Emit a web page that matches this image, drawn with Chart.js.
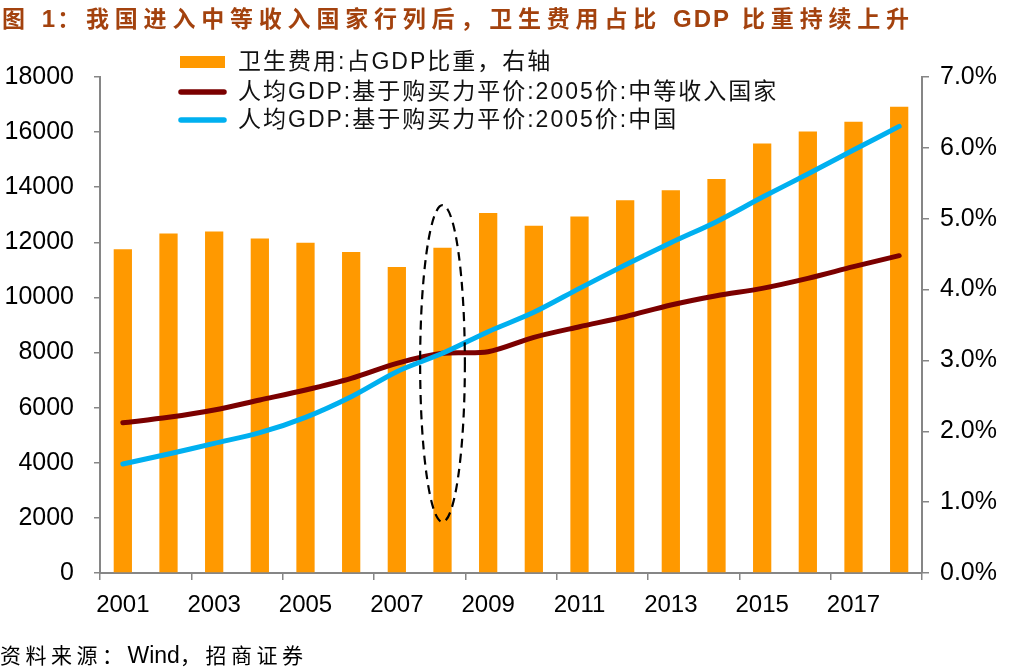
<!DOCTYPE html>
<html>
<head>
<meta charset="utf-8">
<script src="https://cdn.jsdelivr.net/npm/chart.js@4/dist/chart.umd.min.js"></script>
<style>
  html, body { margin: 0; padding: 0; background: #fff; }
  #wrap { position: relative; width: 1009px; height: 671px; overflow: hidden; }
  #title { position: absolute; left: 2px; top: 0px; font: bold 23px "Noto Sans CJK SC", "Liberation Sans", sans-serif; color: #A3420E; letter-spacing: 5.8px; white-space: nowrap; }
  #title .lat { font-family: "Liberation Sans", Arial, sans-serif; font-size: 24px; letter-spacing: 2px; }
  #source { position: absolute; left: 0px; top: 639px; font: 21px "Noto Sans CJK SC", "Liberation Sans", sans-serif; color: #000; letter-spacing: 4.5px; white-space: nowrap; }
  #source .lat { font-family: "Liberation Sans", Arial, sans-serif; font-size: 23px; letter-spacing: 0; }
  canvas { position: absolute; left: 0; top: 0; }
</style>
</head>
<body>
<div id="wrap">
  <canvas id="c" width="1009" height="671"></canvas>
  <div id="title">图 <span class="lat">1</span>：我国进入中等收入国家行列后，卫生费用占比 <span class="lat">GDP</span> 比重持续上升</div>
  <div id="source">资料来源：<span class="lat">Wind</span>，招商证券</div>
</div>
<script>
// ---- data ----
const years = ['2001','2002','2003','2004','2005','2006','2007','2008','2009','2010','2011','2012','2013','2014','2015','2016','2017','2018'];
const healthShare = [4.57,4.79,4.82,4.72,4.66,4.53,4.32,4.59,5.08,4.90,5.03,5.26,5.40,5.56,6.06,6.23,6.37,6.58];
const gdpMiddleIncome = [5450,5650,5915,6278,6641,7064,7609,7972,8032,8553,8938,9301,9726,10064,10330,10693,11116,11516];
const gdpChina = [3956,4318,4705,5092,5650,6398,7307,7972,8758,9460,10330,11177,11985,12750,13634,14480,15350,16208];
const seriesNames = ['卫生费用:占GDP比重，右轴','人均GDP:基于购买力平价:2005价:中等收入国家','人均GDP:基于购买力平价:2005价:中国'];
const leftAxis = { min: 0, max: 18000, step: 2000 };
const rightAxis = { min: 0, max: 7, step: 1 };
// highlighted year (dashed ellipse) and its vertical span on the left axis
const highlightYear = '2008';
const highlightSpan = [1850, 13350];

const ORANGE = '#FF9900', DARKRED = '#7B0000', BLUE = '#00B0F0', AXIS = '#868686';
const FONT = '"Liberation Sans", "Noto Sans CJK SC", Arial, sans-serif';

const legendPlugin = {
  id: 'customLegend',
  afterDraw(chart) {
    const ctx = chart.ctx;
    const ds = chart.data.datasets;
    ctx.save();
    ctx.font = '23px "Liberation Sans", "Noto Sans CJK SC", sans-serif';
    ctx.letterSpacing = '2px';
    ctx.textBaseline = 'middle';
    const rows = [62, 92, 120];
    [0, 1, 2].forEach((di, i) => {
      const d = ds[di], y = rows[i];
      if (d.type === 'bar') {
        ctx.fillStyle = d.backgroundColor;
        ctx.fillRect(180, y - 6, 45, 12);
      } else {
        ctx.strokeStyle = d.borderColor;
        ctx.lineWidth = 5.5;
        ctx.lineCap = 'round';
        ctx.beginPath(); ctx.moveTo(181, y); ctx.lineTo(224, y); ctx.stroke();
      }
      ctx.fillStyle = '#111';
      ctx.fillText(d.label, 238, y + 1);
    });
    ctx.restore();
  }
};

const ellipsePlugin = {
  id: 'ellipse',
  afterDatasetsDraw(chart) {
    const x = chart.scales.x, y = chart.scales.y;
    const idx = years.indexOf(highlightYear);
    const cx = x.getPixelForValue(idx);
    const w = x.getPixelForValue(1) - x.getPixelForValue(0);
    const yTop = y.getPixelForValue(highlightSpan[1]);
    const yBot = y.getPixelForValue(highlightSpan[0]);
    const ctx = chart.ctx;
    ctx.save();
    ctx.strokeStyle = '#000';
    ctx.lineWidth = 2.2;
    ctx.setLineDash([9, 6]);
    ctx.beginPath();
    ctx.ellipse(cx, (yTop + yBot) / 2, w * 0.49, (yBot - yTop) / 2, 0, 0, Math.PI * 2);
    ctx.stroke();
    ctx.restore();
  }
};

new Chart(document.getElementById('c'), {
  data: {
    labels: years,
    datasets: [
      { type: 'bar', label: seriesNames[0], data: healthShare, yAxisID: 'y1', backgroundColor: ORANGE,
        barPercentage: 0.4, categoryPercentage: 1.0, order: 3 },
      { type: 'line', label: seriesNames[1], data: gdpMiddleIncome, yAxisID: 'y', borderColor: DARKRED,
        backgroundColor: DARKRED, borderWidth: 5, pointRadius: 0, tension: 0.3, borderCapStyle: 'round', order: 2 },
      { type: 'line', label: seriesNames[2], data: gdpChina, yAxisID: 'y', borderColor: BLUE,
        backgroundColor: BLUE, borderWidth: 5, pointRadius: 0, tension: 0.3, borderCapStyle: 'round', order: 1 }
    ]
  },
  options: {
    responsive: false,
    animation: false,
    devicePixelRatio: 1,
    layout: { padding: { top: 77, left: 0, right: 0, bottom: 0 } },
    plugins: { legend: { display: false }, tooltip: { enabled: false }, title: { display: false } },
    scales: {
      x: {
        type: 'category',
        offset: true,
        grid: {
          offset: true, drawOnChartArea: false, drawTicks: true, tickLength: 7, lineWidth: 1.5,
          color: c => (c.type === 'tick' ? (c.index % 2 === 0 ? AXIS : 'rgba(0,0,0,0)') : AXIS)
        },
        border: { color: AXIS, width: 2 },
        ticks: {
          autoSkip: false, maxRotation: 0, minRotation: 0, padding: 11, color: '#000',
          font: { family: FONT, size: 24 },
          callback: (v, i) => (i % 2 === 0 ? years[i] : '')
        },
        afterFit: s => { s.height = 98; }
      },
      y: {
        position: 'left',
        min: leftAxis.min, max: leftAxis.max,
        grid: { drawOnChartArea: false, drawTicks: true, tickLength: 6, color: AXIS, lineWidth: 1.5 },
        border: { color: AXIS, width: 2 },
        ticks: { stepSize: leftAxis.step, padding: 20, color: '#000', font: { family: FONT, size: 25 },
                 callback: v => String(v) },
        afterFit: s => { s.width = 100; }
      },
      y1: {
        position: 'right',
        min: rightAxis.min, max: rightAxis.max,
        grid: { drawOnChartArea: false, drawTicks: true, tickLength: 7, color: AXIS, lineWidth: 1.5 },
        border: { color: AXIS, width: 2 },
        ticks: { stepSize: rightAxis.step, padding: 11, color: '#000', font: { family: FONT, size: 25 },
                 callback: v => Number(v).toFixed(1) + '%' },
        afterFit: s => { s.width = 87; }
      }
    }
  },
  plugins: [ellipsePlugin, legendPlugin]
});
</script>
</body>
</html>
